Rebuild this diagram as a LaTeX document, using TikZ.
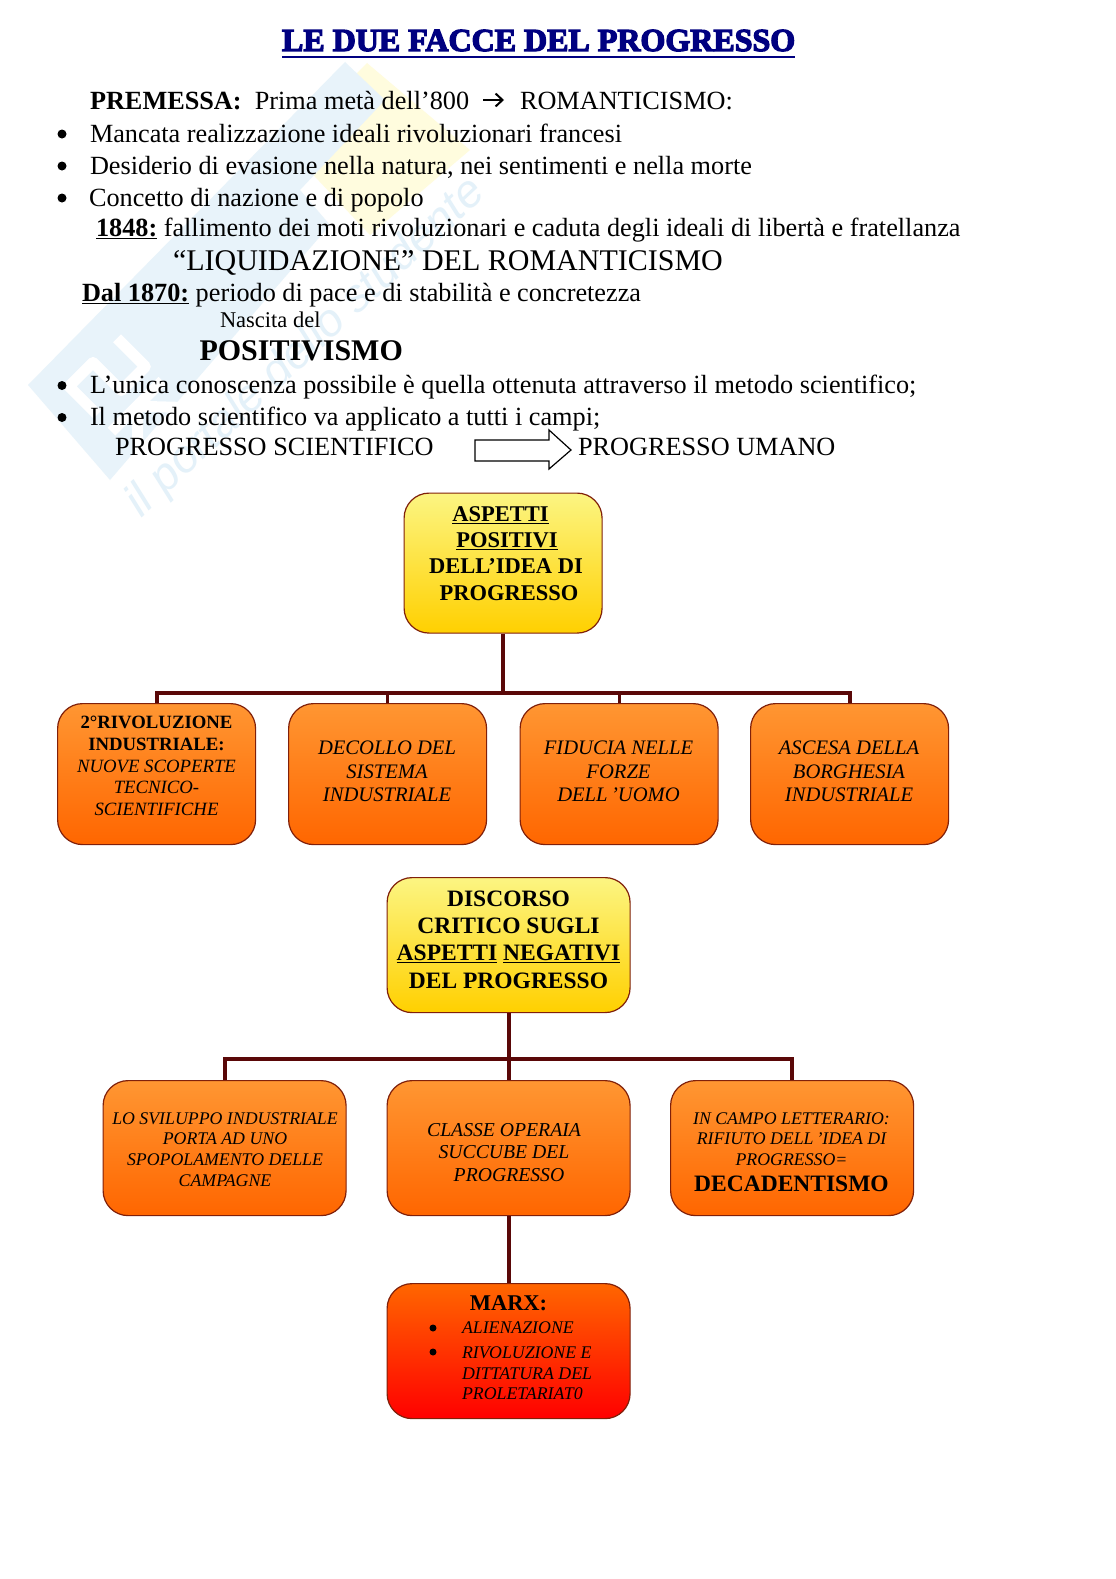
\documentclass[tikz,border=0pt]{standalone}
\usepackage{fontspec}
\setmainfont{Liberation Serif}
\newfontfamily\wmfont{Liberation Sans}
\newfontfamily\titlefont[FakeBold=4]{Liberation Serif Bold}
\usetikzlibrary{arrows.meta,calc}
\newcommand{\fs}[1]{\fontsize{#1}{#1}\selectfont}
\newcommand{\fss}[2]{\fontsize{#1}{#2}\selectfont}
\definecolor{edgeR}{RGB}{128,32,10}
\definecolor{barR}{RGB}{90,8,8}
\definecolor{yelT}{RGB}{252,245,130}
\definecolor{yelB}{RGB}{255,208,0}
\definecolor{orT}{RGB}{255,150,50}
\definecolor{orB}{RGB}{255,102,0}
\definecolor{redT}{RGB}{255,102,0}
\definecolor{redB}{RGB}{255,0,0}
\definecolor{titleB}{RGB}{0,0,128}
\definecolor{wmB}{RGB}{232,243,250}
\definecolor{wmY}{RGB}{255,252,222}
\definecolor{wmT}{RGB}{228,241,249}
\tikzset{
  txt/.style={anchor=base west,inner sep=0pt,outer sep=0pt,font=\fs{26.25}},
  bul/.style={circle,fill=black,inner sep=0pt,minimum size=9pt},
  boxbase/.style={draw=edgeR,line width=1.2pt,rounded corners=25pt,inner sep=0pt,anchor=north west,align=center},
  yelbox/.style={boxbase,top color=yelT,bottom color=yelB},
  orbox/.style={boxbase,top color=orT,bottom color=orB},
  redbox/.style={boxbase,top color=redT,bottom color=redB},
  conn/.style={draw=barR,line width=4.2pt},
  lab/.style={inner sep=0pt,align=center,text=black},
  wmstroke/.style={draw=white,line width=11pt,line join=round},
}
\begin{document}
\begin{tikzpicture}[x=1pt,y=-1pt]
\useasboundingbox[fill=white] (0,0) rectangle (1116,1579);
% watermark
\fill[wmY] (367,63) -- (470,150) -- (370,235) -- (285,145) -- cycle;
\fill[wmB] (28,385) -- (345,62) -- (385,100) -- (300,190) -- (330,225) -- (110,480) -- cycle;
\begin{scope}[shift={(28,385)},x={(0.707pt,-0.707pt)},y={(0.707pt,0.707pt)}]
 \draw[wmstroke] (70,28) -- (30,28) -- (30,62) -- (70,62) -- (70,96) -- (30,96);
 \draw[wmstroke] (92,26) -- (92,98) (130,26) -- (92,62) -- (130,98);
 \draw[wmstroke] (150,26) -- (150,96) -- (190,96) -- (190,26);
 \draw[wmstroke] (212,28) rectangle (252,96);
 \draw[wmstroke] (274,26) -- (274,96) -- (310,96);
 \draw[wmstroke] (330,98) -- (350,26) -- (370,98);
\end{scope}
\node[inner sep=0pt,rotate=43,text=wmT,font=\wmfont\fs{46}\itshape] (wm) at (306,348) {il portale dello studente};
% title
\node[txt,text=titleB,font=\titlefont\fs{32}] (title) at (282,51) {LE DUE FACCE DEL PROGRESSO};
\draw[titleB,line width=2pt] (282,57) -- (795,57);
% text
\node[txt] (t1) at (90,109) {\textbf{PREMESSA:}\ \ Prima metà dell’800};
\node[txt] (t1b) at (520,109) {ROMANTICISMO:};
\coordinate (ar1) at (483,100); \coordinate (ar2) at (504,100);
\draw[line width=2pt,-{Straight Barb[length=7pt,width=13pt]}] (ar1) -- (ar2);
\node[bul] (b1) at (62,134) {}; \node[txt] (t2) at (90,142) {Mancata realizzazione ideali rivoluzionari francesi};
\node[bul] (b2) at (62,166) {}; \node[txt] (t3) at (90,174) {Desiderio di evasione nella natura, nei sentimenti e nella morte};
\node[bul] (b3) at (62,198) {}; \node[txt] (t4) at (89,206) {Concetto di nazione e di popolo};
\node[txt] (t5) at (96,236) {\textbf{\underline{1848:}} fallimento dei moti rivoluzionari e caduta degli ideali di libertà e fratellanza};
\node[txt,font=\fs{30}] (t6) at (173,270) {“LIQUIDAZIONE” DEL ROMANTICISMO};
\node[txt] (t7) at (82,301) {\textbf{\underline{Dal 1870:}} periodo di pace e di stabilità e concretezza};
\node[txt,font=\fs{22.5}] (t8) at (220,327) {Nascita del};
\node[txt,font=\fs{30}\bfseries] (t9) at (199.5,360) {POSITIVISMO};
\node[bul] (b4) at (62,385.5) {}; \node[txt] (t10) at (90,393) {L’unica conoscenza possibile è quella ottenuta attraverso il metodo scientifico;};
\node[bul] (b5) at (62,417.5) {}; \node[txt] (t11) at (90,425) {Il metodo scientifico va applicato a tutti i campi;};
\node[txt] (t12) at (115,455) {PROGRESSO SCIENTIFICO};
\node[txt] (t13) at (578,455) {PROGRESSO UMANO};
\draw[draw=black,fill=white,line width=1.2pt] (475,440) -- (549,440) -- (549,430) -- (571,450) -- (549,469) -- (549,461) -- (475,461) -- cycle;
% boxes top tree
\node[yelbox,minimum width=198pt,minimum height=140pt] (A) at (403.5,492.5) {};
\node[lab,font=\fss{22.5}{26.25}\bfseries] (Al) at (506,553.5) {\underline{ASPETTI}\hspace*{11pt}\\\hspace*{2pt}\underline{POSITIVI}\\DELL’IDEA DI\\\hspace*{6pt}PROGRESSO};
\node[orbox,minimum width=198pt,minimum height=141pt] (A1) at (57,703) {};
\node[orbox,minimum width=198pt,minimum height=141pt] (A2) at (288,703) {};
\node[orbox,minimum width=198pt,minimum height=141pt] (A3) at (519.5,703) {};
\node[orbox,minimum width=198pt,minimum height=141pt] (A4) at (750,703) {};
\node[lab,font=\fss{18.75}{21.6}\itshape] (A1l) at (156.5,766) {\textbf{\textup{2°RIVOLUZIONE}}\\\textbf{\textup{INDUSTRIALE:}}\\NUOVE SCOPERTE\\TECNICO-\\SCIENTIFICHE};
\node[lab,font=\fss{20.6}{23.7}\itshape] (A2l) at (387,771.5) {DECOLLO DEL\\SISTEMA\\INDUSTRIALE};
\node[lab,font=\fss{20.6}{23.7}\itshape] (A3l) at (618.5,771.5) {FIDUCIA NELLE\\FORZE\\DELL\,’UOMO};
\node[lab,font=\fss{20.6}{23.7}\itshape] (A4l) at (849,771.5) {ASCESA DELLA\\BORGHESIA\\INDUSTRIALE};
\coordinate (busA) at ($(A.south)+(0,59)$);
\draw[conn] (A.south) -- (busA);
\draw[conn] (A1.north) |- (busA) -| (A4.north);
\draw[conn,line width=3.2pt] (A2.north) -- (A2.north |- busA);
\draw[conn,line width=3.2pt] (A3.north) -- (A3.north |- busA);
% second tree
\node[yelbox,minimum width=243pt,minimum height=135pt] (B) at (386.5,877) {};
\node[lab,font=\fss{23.5}{27.3}\bfseries] (Bl) at (508.5,939.5) {DISCORSO\\CRITICO SUGLI\\\underline{ASPETTI} \underline{NEGATIVI}\\DEL PROGRESSO};
\node[orbox,minimum width=243pt,minimum height=135pt] (B1) at (102.5,1080) {};
\node[orbox,minimum width=243pt,minimum height=135pt] (B2) at (386.5,1080) {};
\node[orbox,minimum width=243pt,minimum height=135pt] (B3) at (670,1080) {};
\node[lab,font=\fss{17.8}{20.8}\itshape] (B1l) at (225,1149.5) {LO SVILUPPO INDUSTRIALE\\PORTA AD UNO\\SPOPOLAMENTO DELLE\\CAMPAGNE};
\node[lab,font=\fss{19.7}{22.4}\itshape] (B2l) at (504,1152.5) {CLASSE OPERAIA\\SUCCUBE DEL\\\hspace*{10pt}PROGRESSO};
\node[lab,font=\fss{17.8}{20.8}\itshape] (B3l) at (791.5,1139) {IN CAMPO LETTERARIO:\\RIFIUTO DELL\,’IDEA DI\\PROGRESSO=};
\node[lab,font=\fs{23.5}\bfseries] (B3m) at (791.5,1184) {DECADENTISMO};
\coordinate (busB) at ($(B.south)+(0,46)$);
\draw[conn] (B.south) -- (B2.north);
\draw[conn] (B1.north) |- (busB) -| (B3.north);
\node[redbox,minimum width=243pt,minimum height=135pt] (C) at (386.5,1283) {};
\draw[conn] (B2.south) -- (C.north);
\node[txt,anchor=center,font=\fs{22.5}\bfseries] (Cl) at (508.5,1303) {MARX:};
\node[bul,minimum size=7pt] (c1) at (433,1328) {};
\node[bul,minimum size=7pt] (c2) at (433,1352) {};
\node[txt,font=\fs{17.8}\itshape] (Cl1) at (462,1333) {ALIENAZIONE};
\node[txt,font=\fs{17.8}\itshape] (Cl2) at (462,1358) {RIVOLUZIONE E};
\node[txt,font=\fs{17.8}\itshape] (Cl3) at (462,1379) {DITTATURA DEL};
\node[txt,font=\fs{17.8}\itshape] (Cl4) at (462,1399) {PROLETARIAT0};
\end{tikzpicture}
\end{document}
